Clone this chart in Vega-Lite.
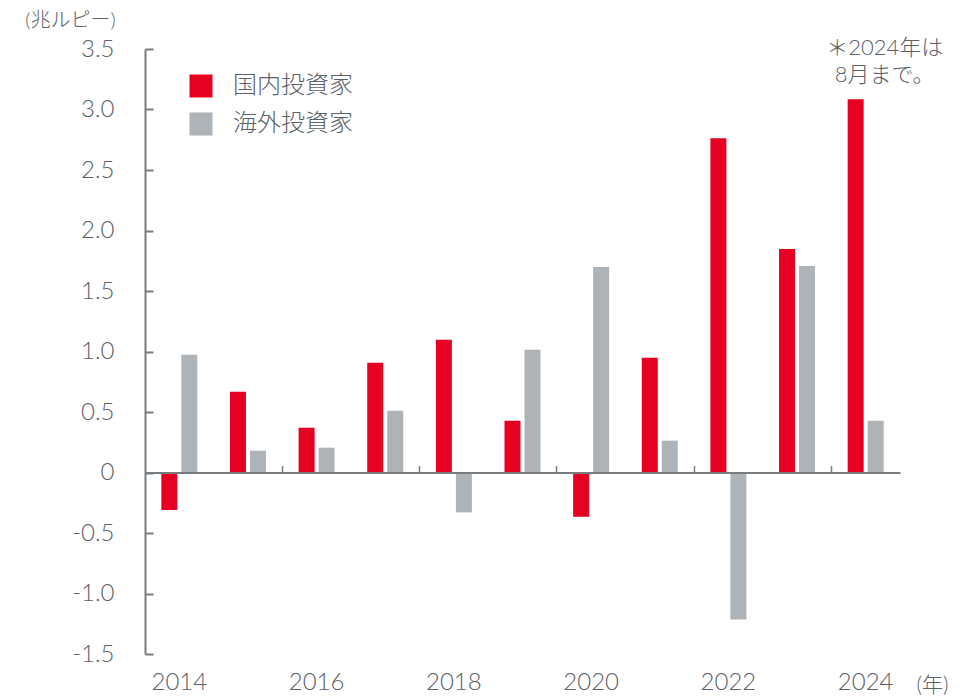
{
  "$schema": "https://vega.github.io/schema/vega-lite/v6.json",
  "autosize": {"type": "none"},
  "padding": {"left": 145, "top": 49, "right": 70, "bottom": 42},
  "width": 755,
  "height": 605,
  "config": {
    "view": {"stroke": null},
    "font": "Lato, Noto Sans CJK JP",
    "axis": {"labelFont": "Lato, Noto Sans CJK JP", "titleFont": "Lato, Noto Sans CJK JP", "labelFontWeight": 300, "titleFontWeight": 300, "labelColor": "#5b6168", "titleColor": "#5b6168"},
    "legend": {"labelFont": "Lato, Noto Sans CJK JP", "labelFontWeight": 300}
  },
  "data": {
    "values": [
      {"year": 2014, "series": "国内投資家", "value": -0.31},
      {"year": 2014, "series": "海外投資家", "value": 0.973},
      {"year": 2015, "series": "国内投資家", "value": 0.667},
      {"year": 2015, "series": "海外投資家", "value": 0.18},
      {"year": 2016, "series": "国内投資家", "value": 0.37},
      {"year": 2016, "series": "海外投資家", "value": 0.205},
      {"year": 2017, "series": "国内投資家", "value": 0.907},
      {"year": 2017, "series": "海外投資家", "value": 0.51},
      {"year": 2018, "series": "国内投資家", "value": 1.097},
      {"year": 2018, "series": "海外投資家", "value": -0.33},
      {"year": 2019, "series": "国内投資家", "value": 0.428},
      {"year": 2019, "series": "海外投資家", "value": 1.014},
      {"year": 2020, "series": "国内投資家", "value": -0.366},
      {"year": 2020, "series": "海外投資家", "value": 1.699},
      {"year": 2021, "series": "国内投資家", "value": 0.948},
      {"year": 2021, "series": "海外投資家", "value": 0.263},
      {"year": 2022, "series": "国内投資家", "value": 2.763},
      {"year": 2022, "series": "海外投資家", "value": -1.215},
      {"year": 2023, "series": "国内投資家", "value": 1.847},
      {"year": 2023, "series": "海外投資家", "value": 1.707},
      {"year": 2024, "series": "国内投資家", "value": 3.085},
      {"year": 2024, "series": "海外投資家", "value": 0.428}
    ]
  },
  "resolve": {"axis": {"x": "independent"}},
  "layer": [
    {
      "mark": {"type": "bar"},
      "encoding": {
        "x": {
          "field": "year", "type": "ordinal",
          "scale": {"paddingInner": 0, "paddingOuter": 0},
          "axis": {
            "orient": "bottom", "domain": false, "ticks": false,
            "labelAngle": 0, "labelFontSize": 24, "labelPadding": 16,
            "labelExpr": "datum.value % 2 == 0 ? datum.label : ''",
            "title": "(年)", "titleFontSize": 21, "titleX": 787, "titleY": 37,
            "titleAlign": "center", "titleBaseline": "alphabetic"
          }
        },
        "xOffset": {
          "field": "series", "type": "nominal",
          "scale": {"domain": ["国内投資家", "海外投資家"], "paddingInner": 0.2, "paddingOuter": 0.816}
        },
        "y": {
          "field": "value", "type": "quantitative",
          "scale": {"domain": [-1.5, 3.5], "nice": false, "zero": false},
          "axis": {
            "values": [-1.5, -1.0, -0.5, 0, 0.5, 1.0, 1.5, 2.0, 2.5, 3.0, 3.5],
            "labelExpr": "datum.value == 0 ? '0' : replace(format(datum.value, '.1f'), '−', '-')",
            "labelFontSize": 24, "labelPadding": 39,
            "tickSize": -8, "tickWidth": 2, "tickColor": "#777c80",
            "domainColor": "#777c80", "domainWidth": 2,
            "grid": false,
            "title": "(兆ルピー)", "titleFontSize": 20, "titleAngle": 0,
            "titleX": -75, "titleY": -23, "titleAlign": "center", "titleBaseline": "alphabetic"
          }
        },
        "color": {
          "field": "series", "type": "nominal",
          "scale": {"domain": ["国内投資家", "海外投資家"], "range": ["#e60021", "#adb3b6"]},
          "legend": {
            "title": null, "orient": "none", "legendX": 44, "legendY": 25,
            "symbolType": "square", "symbolSize": 529, "symbolStrokeWidth": 0, "symbolOpacity": 1,
            "labelFontSize": 24, "labelColor": "#5b6168", "labelOffset": 20, "rowPadding": 14, "padding": 0
          }
        }
      }
    },
    {
      "mark": {"type": "rule", "opacity": 0},
      "encoding": {
        "x": {
          "field": "year", "type": "ordinal",
          "axis": {
            "orient": "top", "offset": -423.5, "zindex": 1,
            "domain": true, "domainColor": "#777c80", "domainWidth": 2,
            "ticks": true, "bandPosition": 0, "tickSize": 7, "tickWidth": 1.5, "tickColor": "#777c80",
            "tickOpacity": {"condition": {"test": "datum.value % 2 == 0 && datum.value != 2014", "value": 1}, "value": 0},
            "labels": false, "title": null
          }
        }
      }
    },
    {
      "data": {"values": [{"note": "＊2024年は\n8月まで。"}]},
      "mark": {"type": "text", "align": "center", "baseline": "alphabetic", "fontSize": 22, "fontWeight": 300, "font": "Lato, Noto Sans CJK JP", "color": "#5b6168", "lineBreak": "\n", "lineHeight": 27, "dx": 19, "dy": 6},
      "encoding": {
        "x": {"datum": 2024, "type": "ordinal", "axis": null},
        "y": {"datum": 3.5, "type": "quantitative"},
        "text": {"field": "note"}
      }
    }
  ]
}
